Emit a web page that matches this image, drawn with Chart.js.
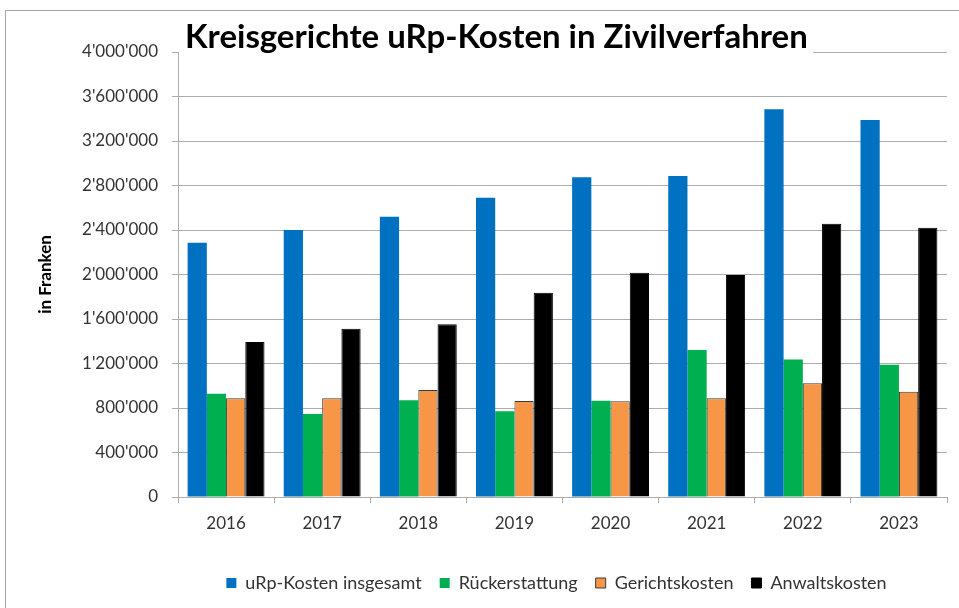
<!DOCTYPE html>
<html>
<head>
<meta charset="utf-8">
<script src="https://cdn.jsdelivr.net/npm/chart.js@4"></script>
<style>
  html, body { margin: 0; padding: 0; background: #fff; overflow: hidden; }
  #wrap { position: absolute; left: 0; top: 0; width: 959px; height: 608px; }
  #frame { position: absolute; left: 5px; top: 10px; width: 1200px; height: 1000px;
           border: 1px solid #a6a6a6; pointer-events: none; }
  canvas { position: absolute; left: 0; top: 0; }
</style>
</head>
<body>
<div id="wrap">
  <div id="frame"></div>
  <canvas id="c" width="959" height="608"></canvas>
</div>
<script>
const chartTitle = "Kreisgerichte uRp-Kosten in Zivilverfahren";
const yAxisTitle = "in Franken";
const categories = ["2016", "2017", "2018", "2019", "2020", "2021", "2022", "2023"];
const seriesNames = ["uRp-Kosten insgesamt", "Rückerstattung", "Gerichtskosten", "Anwaltskosten"];
const urpTotal     = [2286000, 2400000, 2520000, 2690000, 2874000, 2885000, 3485000, 3389000];
const rueckerstatt = [929000, 746000, 869000, 770000, 866000, 1321000, 1237000, 1189000];
const gericht      = [887000, 887000, 962000, 863000, 860000, 887000, 1022000, 947000];
const anwalt       = [1393000, 1513000, 1552000, 1836000, 2016000, 1996000, 2457000, 2421000];
const yTickLabels  = ["0", "400'000", "800'000", "1'200'000", "1'600'000", "2'000'000",
                      "2'400'000", "2'800'000", "3'200'000", "3'600'000", "4'000'000"];

const FONT = "Lato";
const gridColor = "#acacac";
const textColor = "#333333";

const titlePlugin = {
  id: "boxedTitle",
  afterLayout(chart) {
    // centre the legend row under the plot like the original
    if (chart.legend) { chart.legend.left = 166; chart.legend.right = 947; }
  },
  afterDraw(chart) {
    const ctx = chart.ctx;
    const x0 = 185, targetW = 623, baseline = 48;
    ctx.save();
    let size = 27;
    ctx.font = "bold " + size + "px " + FONT;
    const w = ctx.measureText(chartTitle).width;
    size = size * targetW / w;
    ctx.font = "bold " + size.toFixed(2) + "px " + FONT;
    ctx.fillStyle = "#ffffff";
    ctx.fillRect(chart.chartArea.left + 1, 20, x0 + targetW + 5 - chart.chartArea.left - 1, 36);
    ctx.fillStyle = "#000000";
    ctx.textBaseline = "alphabetic";
    ctx.textAlign = "left";
    ctx.fillText(chartTitle, x0, baseline);
    ctx.restore();
  }
};

function build() {
  const ctx = document.getElementById("c").getContext("2d");
  new Chart(ctx, {
    type: "bar",
    data: {
      labels: categories,
      datasets: [
        { label: seriesNames[0], data: urpTotal, backgroundColor: "#0070C0", borderWidth: 0 },
        { label: seriesNames[1], data: rueckerstatt, backgroundColor: "#00B050", borderWidth: 0 },
        { label: seriesNames[2], data: gericht, backgroundColor: "#F79646", borderColor: "#3a3a3a", borderWidth: 1 },
        { label: seriesNames[3], data: anwalt, backgroundColor: "#000000", borderColor: "#000000", borderWidth: 1 }
      ]
    },
    options: {
      responsive: false,
      animation: false,
      devicePixelRatio: 1,
      datasets: { bar: { categoryPercentage: 0.8, barPercentage: 1.0 } },
      layout: { padding: { left: 0, right: 12, top: 52, bottom: 6 } },
      plugins: {
        title: { display: false },
        tooltip: { enabled: false },
        legend: {
          position: "bottom",
          labels: {
            boxWidth: 10, boxHeight: 10, padding: 18,
            color: textColor,
            font: { family: FONT, size: 18 }
          }
        }
      },
      scales: {
        x: {
          grid: { display: true, drawOnChartArea: false, drawTicks: true, tickLength: 6, color: gridColor, offset: true },
          border: { display: true, color: gridColor, width: 1 },
          ticks: { color: textColor, font: { family: FONT, size: 17 }, padding: 10, maxRotation: 0 },
          afterFit(scale) { scale.height = 59; }
        },
        y: {
          min: 0, max: 4000000,
          ticks: {
            stepSize: 400000, color: textColor, font: { family: FONT, size: 17 }, padding: 14,
            callback: (v, i) => yTickLabels[i]
          },
          grid: { color: gridColor, lineWidth: 1, tickLength: 6, drawTicks: true },
          border: { display: true, color: gridColor, width: 1 },
          title: {
            display: true, text: yAxisTitle, color: "#000000",
            font: { family: FONT, size: 17, weight: "bold" },
            padding: { top: 35, bottom: 0 }
          },
          afterFit(scale) { scale.width = 178; }
        }
      }
    },
    plugins: [titlePlugin]
  });
}

if (document.fonts && document.fonts.load) {
  Promise.all([
    document.fonts.load("17px " + FONT),
    document.fonts.load("bold 27px " + FONT)
  ]).then(build, build);
} else {
  build();
}
</script>
</body>
</html>
